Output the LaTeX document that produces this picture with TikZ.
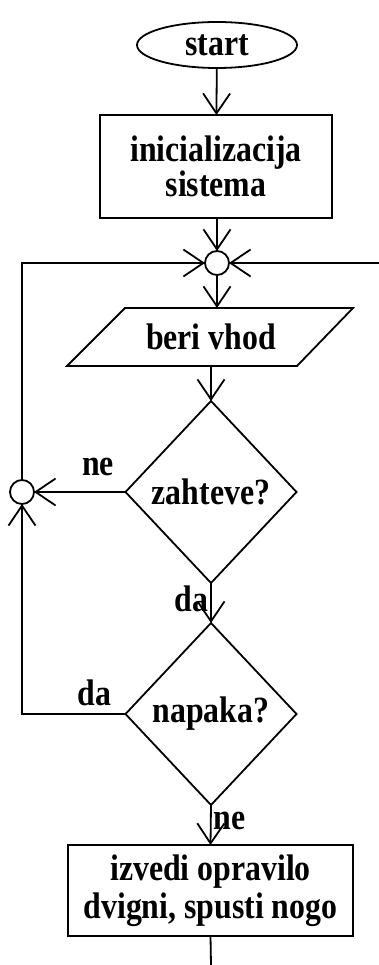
\documentclass[tikz,border=0pt]{standalone}
\usepackage{fontspec}
\setmainfont{Liberation Serif}[FakeStretch=0.86]
\usetikzlibrary{shapes.geometric,arrows.meta}
\begin{document}
\begin{tikzpicture}[x=1pt,y=-1pt,
  line width=1.8pt,
  >={Straight Barb[length=20pt,width=27pt]},
  every node/.style={font=\fontsize{37pt}{35pt}\selectfont\bfseries, inner sep=0pt, outer sep=0pt},
  term/.style={draw, ellipse, minimum width=160pt, minimum height=46pt},
  procbox/.style={draw, rectangle, align=center},
  decide/.style={draw, diamond, minimum width=171pt, minimum height=182pt},
  joint/.style={draw, circle, minimum size=24pt},
  flow/.style={->}
]
\useasboundingbox (0,0) rectangle (379,965);

% nodes
\node[term] (start) at (217,45) {start};
\node[procbox, minimum width=232pt, minimum height=103pt] (init) at (216,166.5) {inicializacija\\sistema};
\node[joint] (j1) at (217,263) {};
\node (read) at (211,337) {beri vhod};
\node[decide] (req) at (211,492) {zahteve?};
\node[joint] (j2) at (22,492) {};
\node[decide] (err) at (211,714) {napaka?};
\node[procbox, minimum width=285pt, minimum height=91pt,
      font=\fontsize{37pt}{38.5pt}\selectfont\bfseries] (work) at (210.5,890.5) {izvedi opravilo\\dvigni, spusti nogo};

% input parallelogram
\coordinate (rtop) at (217,308);
\coordinate (rbot) at (211,366);
\draw (125,308) -- (353,308) -- (297,366) -- (67,366) -- cycle;

% free ends
\coordinate (rightin) at (379,263);
\coordinate (leftup) at (22,263);
\coordinate (leftdown) at (22,714);
\coordinate (endout) at (211,965);

% connectors
\draw[flow] (start) -- (init);
\draw[flow] (init.south -| j1) -- (j1);
\draw[flow] (j1) -- (rtop);
\draw[flow] (rightin) -- (j1);
\draw[flow] (j2) -- (leftup) -- (j1);
\draw[flow] (rbot) -- (req.north);
\draw[flow] (req.west) -- node[above=16pt, pos=0.3] (ne1) {ne} (j2);
\draw[flow] (req.south) -- node[left=3pt, pos=0.4] (da1) {da} (err.north);
\draw[flow] (err.west) -- node[above=8pt, pos=0.3] (da2) {da} (leftdown) -- (j2);
\draw[flow] (err.south) -- node[right=3pt, pos=0.4] (ne2) {ne} (work.north);
\draw (work.south) -- (endout);
\end{tikzpicture}
\end{document}
